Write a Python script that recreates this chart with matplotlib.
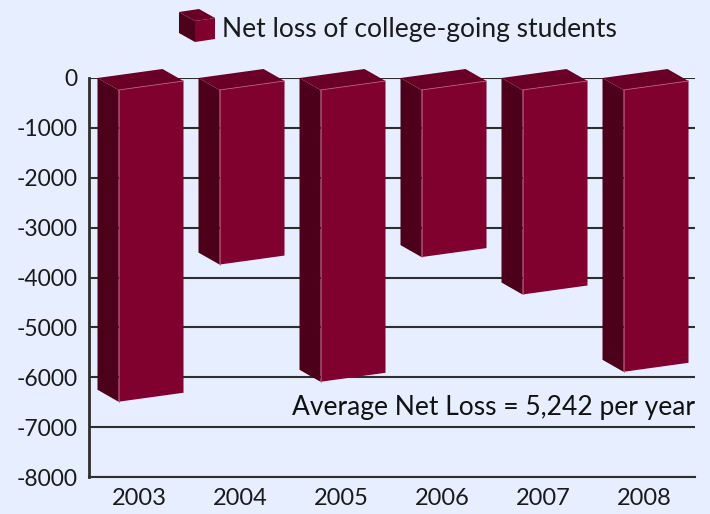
import matplotlib
matplotlib.use('Agg')
import matplotlib.pyplot as plt
from matplotlib.patches import Polygon

# data
years = ['2003', '2004', '2005', '2006', '2007', '2008']
net_loss = [-6250, -3500, -5850, -3350, -4100, -5650]
y_ticks = [0, -1000, -2000, -3000, -4000, -5000, -6000, -7000, -8000]
legend_label = 'Net loss of college-going students'
note = 'Average Net Loss = 5,242 per year'

bg = '#E6EEFF'
front_c = '#80002E'
side_c = '#4C0019'
top_c = '#6A0026'
edge_hi = '#B8587A'
grid_c = '#2E2E2E'

plt.rcParams['font.family'] = ['Lato', 'DejaVu Sans']

W, H = 710, 514
fig = plt.figure(figsize=(W / 100, H / 100), dpi=100, facecolor=bg)
ax = fig.add_axes([89 / W, 1 - 477 / H, 606 / W, 399 / H])
ax.set_facecolor(bg)
ax.set_xlim(-0.5, len(years) - 0.5)
ax.set_ylim(y_ticks[-1], y_ticks[0])

# pixel sizes in data units (for the 3d look)
px_x = len(years) / 606
px_y = 8000 / 399
w = 65 * px_x        # bar width
dx = 21 * px_x       # depth offset, x
dy = 12 * px_y       # depth offset, y
skew = 9 * px_y      # slant of the top edge
off = -42 * px_x     # back-left corner from category centre

for t in y_ticks:
    ax.plot([-0.5, len(years) - 0.5], [t, t], color=grid_c, lw=1.5, zorder=1,
            solid_capstyle='butt')

for i, v in enumerate(net_loss):
    x0 = i + off
    blt, brt = (x0, 0), (x0 + w, skew)
    flt, frt = (x0 + dx, -dy), (x0 + w + dx, skew - dy)
    blb = (x0, v)
    flb, frb = (x0 + dx, v - dy), (x0 + w + dx, v + skew - dy)
    ax.add_patch(Polygon([blt, flt, flb, blb], closed=True, fc=side_c,
                         ec='none', zorder=3, clip_on=False))
    ax.add_patch(Polygon([flt, frt, frb, flb], closed=True, fc=front_c,
                         ec='none', zorder=3, clip_on=False))
    ax.add_patch(Polygon([blt, brt, frt, flt], closed=True, fc=top_c,
                         ec='none', zorder=3, clip_on=False))
    ax.plot([flt[0], frt[0]], [flt[1], frt[1]], color=edge_hi, lw=0.6,
            zorder=4, clip_on=False)
    ax.plot([flt[0], flb[0]], [flt[1], flb[1]], color=edge_hi, lw=0.5,
            zorder=4, clip_on=False)

for s in ['top', 'right']:
    ax.spines[s].set_visible(False)
ax.spines['left'].set_color(grid_c)
ax.spines['left'].set_linewidth(2)
ax.spines['bottom'].set_color(grid_c)
ax.spines['bottom'].set_linewidth(1.5)

ax.set_yticks(y_ticks)
ax.set_yticklabels([str(t) for t in y_ticks])
ax.set_xticks(range(len(years)))
ax.set_xticklabels(years)
ax.tick_params(axis='y', length=0, pad=8, labelsize=16.5, labelcolor='#1A1A1A')
ax.tick_params(axis='x', length=0, pad=8, labelsize=17, labelcolor='#1A1A1A')

ax.text(len(years) - 0.5, -(415 - 78) * px_y, note, ha='right',
        va='baseline', fontsize=19, color='#111111', zorder=5)


# legend: little cube + label
def fp(x, y):
    return (x / W, 1 - y / H)


cube = [
    ([fp(179, 12), fp(195, 21), fp(195, 42), fp(179, 33)], side_c),
    ([fp(195, 21), fp(215, 18), fp(215, 39), fp(195, 42)], front_c),
    ([fp(179, 12), fp(199, 9), fp(215, 18), fp(195, 21)], top_c),
]
for pts, c in cube:
    fig.add_artist(Polygon(pts, closed=True, fc=c, ec='none',
                           transform=fig.transFigure))
fig.text(222 / W, 1 - 37 / H, legend_label, ha='left', va='baseline',
         fontsize=19, color='#1A1A1A')

fig.savefig('out.png', dpi=100, facecolor=bg)
